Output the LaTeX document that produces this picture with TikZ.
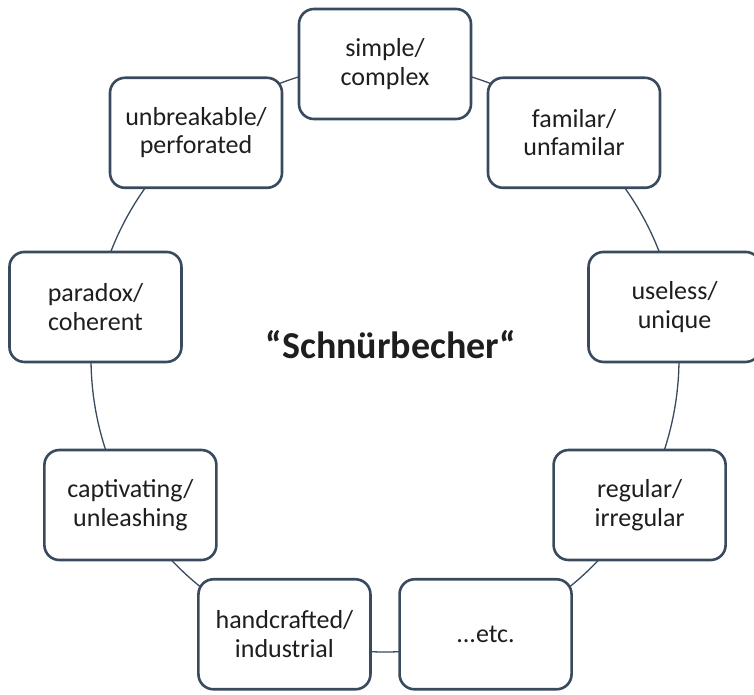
\documentclass[tikz,border=0pt]{standalone}
\usepackage{fontspec}
\setmainfont{Carlito}
\usetikzlibrary{calc}
\definecolor{edgecol}{HTML}{3A4A5E}
\definecolor{txtcol}{HTML}{1E1E1E}
\tikzset{
  itembox/.style={draw=edgecol, line width=2.6pt, fill=white, rounded corners=15pt,
    minimum width=172pt, minimum height=110pt, inner sep=0pt, align=center,
    text=txtcol, font=\fontsize{26}{28.5}\selectfont},
  ring/.style={draw=edgecol, line width=1.3pt}
}
\begin{document}
\begin{tikzpicture}[x=1pt,y=-1pt]
\useasboundingbox[fill=white] (0,0) rectangle (754,694);
\coordinate (c) at (385,358);
\draw[ring] (c) circle (294pt);
\node[itembox] (n0) at ($(c)+(90:294pt)$) {simple/\\complex};
\node[itembox] (n1) at ($(c)+(50:294pt)$) {familar/\\unfamilar};
\node[itembox] (n2) at ($(c)+(10:294pt)$) {useless/\\unique};
\node[itembox] (n3) at ($(c)+(-30:294pt)$) {regular/\\irregular};
\node[itembox] (n4) at ($(c)+(-70:294pt)$) {...etc.};
\node[itembox] (n5) at ($(c)+(-110:294pt)$) {handcrafted/\\industrial};
\node[itembox] (n6) at ($(c)+(-150:294pt)$) {captivating/\\unleashing};
\node[itembox] (n7) at ($(c)+(170:294pt)$) {paradox/\\coherent};
\node[itembox] (n8) at ($(c)+(130:294pt)$) {unbreakable/\\perforated};
\node[anchor=base, text=txtcol, font=\fontsize{38}{40}\selectfont\bfseries] (title) at (391,358) {“Schnürbecher“};
\end{tikzpicture}
\end{document}
